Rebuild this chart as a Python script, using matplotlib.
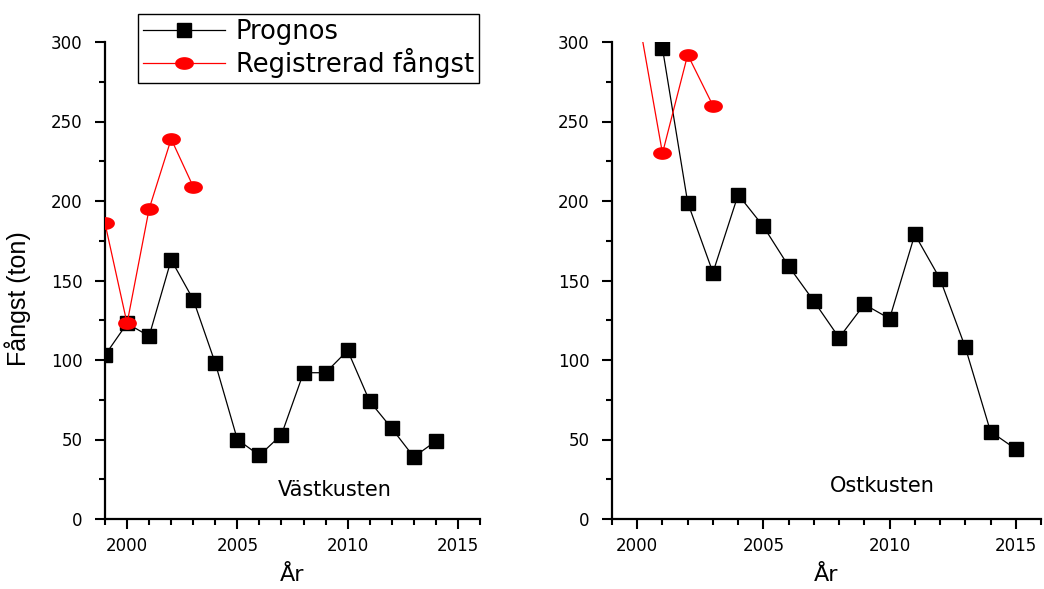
import numpy as np
import matplotlib
matplotlib.use("Agg")
import matplotlib.pyplot as plt
from matplotlib.path import Path
from matplotlib.ticker import MultipleLocator

plt.rcParams['font.family'] = ['DejaVu Sans']

# Västkusten
vast_years = [1999, 2000, 2001, 2002, 2003, 2004, 2005, 2006, 2007, 2008,
              2009, 2010, 2011, 2012, 2013, 2014]
vast_prognos = [103, 123, 115, 163, 138, 98, 50, 40, 53, 92, 92, 106, 74, 57, 39, 49]
vast_reg_years = [1999, 2000, 2001, 2002, 2003]
vast_reg = [186, 123, 195, 239, 209]

# Ostkusten
ost_years = [2001, 2002, 2003, 2004, 2005, 2006, 2007, 2008, 2009, 2010,
             2011, 2012, 2013, 2014, 2015]
ost_prognos = [296, 199, 155, 204, 184, 159, 137, 114, 135, 126, 179, 151, 108, 55, 44]
ost_reg_years = [2000, 2001, 2002, 2003]
ost_reg = [320, 230, 292, 260]

# elliptical marker for the red series
t = np.linspace(0, 2 * np.pi, 60)
ellipse = Path(np.column_stack([np.cos(t), 0.65 * np.sin(t)]), closed=True)

fig = plt.figure(figsize=(10.44, 5.89), dpi=100)
ax1 = fig.add_axes([105 / 1044, 70 / 589, 375 / 1044, 477 / 589])
ax2 = fig.add_axes([612 / 1044, 70 / 589, 429 / 1044, 477 / 589])


def style(ax):
    ax.set_xlim(1999, 2016)
    ax.set_ylim(0, 300)
    ax.xaxis.set_major_locator(MultipleLocator(5))
    ax.xaxis.set_minor_locator(MultipleLocator(1))
    ax.yaxis.set_major_locator(MultipleLocator(50))
    ax.yaxis.set_minor_locator(MultipleLocator(25))
    for s in ['top', 'right']:
        ax.spines[s].set_visible(False)
    for s in ['left', 'bottom']:
        ax.spines[s].set_linewidth(1.6)
    ax.tick_params(which='major', length=7, width=1.5, labelsize=12)
    ax.tick_params(axis='x', which='major', pad=6)
    ax.tick_params(axis='y', which='major', pad=9)
    ax.tick_params(which='minor', length=4.5, width=1.5)
    ax.set_xlabel('År', fontsize=16, labelpad=7)


for ax, yrs, prog, ryrs, reg in [(ax1, vast_years, vast_prognos, vast_reg_years, vast_reg),
                                 (ax2, ost_years, ost_prognos, ost_reg_years, ost_reg)]:
    ax.plot(yrs, prog, color='black', lw=0.9, marker='s', ms=9.5,
            label='Prognos', zorder=3)
    ax.plot(ryrs, reg, color='red', lw=0.9, marker=ellipse, ms=12.5,
            label='Registrerad fångst', zorder=4)
    style(ax)

ax1.set_ylabel('Fångst (ton)', fontsize=18, family=['Liberation Sans', 'DejaVu Sans'])
ax1.yaxis.set_label_coords(-0.197, 0.463)
ax1.text(2009.4, 18, 'Västkusten', fontsize=15, ha='center', va='center')
ax2.text(2009.7, 21, 'Ostkusten', fontsize=15, ha='center', va='center')

h, l = ax1.get_legend_handles_labels()
fig.legend(h, l, loc='upper left', bbox_to_anchor=(138 / 1044, 1 - 14 / 589),
           borderaxespad=0, fontsize=18.5, frameon=True, fancybox=False,
           edgecolor='black', framealpha=1, numpoints=1, handlelength=3.2,
           handletextpad=0.4, borderpad=0.2, labelspacing=0.12)

fig.savefig('out.png', dpi=100)
